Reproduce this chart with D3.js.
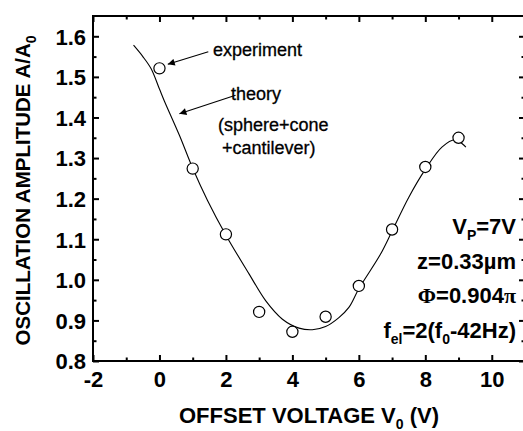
<!DOCTYPE html>
<html>
<head>
<meta charset="utf-8">
<script src="https://cdn.jsdelivr.net/npm/d3@7"></script>
<style>
  html, body { margin: 0; padding: 0; background: #fff; }
  svg { display: block; }
  text { font-family: "Liberation Sans", Arial, Helvetica, sans-serif; fill: #000; }
</style>
</head>
<body>
<svg id="chart" width="523" height="431"></svg>
<script>
// ---- data ----
const expX = [0, 1, 2, 3, 4, 5, 6, 7, 8, 9];
const expY = [1.521, 1.274, 1.112, 0.921, 0.872, 0.909, 0.985, 1.124, 1.278, 1.350];

const theoryX = [-0.78, -0.5, -0.25, 0, 0.15, 0.6, 1, 1.45, 2, 2.7, 3.2, 3.7, 4.2, 4.6, 5.0, 5.4, 5.7, 6, 6.65, 7, 7.5, 8, 8.5, 8.9, 9.22];
const theoryY = [1.578, 1.55, 1.52, 1.47, 1.44, 1.356, 1.275, 1.195, 1.11, 1.014, 0.948, 0.903, 0.881, 0.877, 0.885, 0.907, 0.932, 0.978, 1.063, 1.12, 1.203, 1.272, 1.327, 1.345, 1.327];

const xMajorTicks = [-2, 0, 2, 4, 6, 8, 10];
const xMinorTicks = [-1, 1, 3, 5, 7, 9];
const yMajorTicks = [0.8, 0.9, 1.0, 1.1, 1.2, 1.3, 1.4, 1.5, 1.6];
const yMinorTicks = [0.85, 0.95, 1.05, 1.15, 1.25, 1.35, 1.45, 1.55];

const xDomain = [-2, 11];
const yDomain = [0.8, 1.65];

// ---- layout ----
const svg = d3.select("#chart");
const L = 93, R = 525, T = 16, B = 361;
const x = d3.scaleLinear().domain(xDomain).range([L, R]);
const y = d3.scaleLinear().domain(yDomain).range([B, T]);

const majorLen = 6, minorLen = 3.5;

// frame
svg.append("rect")
  .attr("x", L).attr("y", T).attr("width", R - L).attr("height", B - T)
  .attr("fill", "none").attr("stroke", "#000").attr("stroke-width", 2);

const fmtX = (d) => String(d);           // plain hyphen-minus like the original
const fmtY = (d) => d.toFixed(1);

// axes with inward ticks
function addAxis(axisFn, scale, ticks, len, transform, fmt) {
  const a = axisFn(scale).tickValues(ticks).tickSizeInner(-len).tickSizeOuter(0)
    .tickPadding(6);
  a.tickFormat(fmt || (() => ""));
  const g = svg.append("g").attr("transform", transform).call(a);
  g.select(".domain").remove();
  g.selectAll(".tick line").attr("stroke", "#000").attr("stroke-width", 2);
  g.selectAll(".tick text")
    .attr("font-size", 22).attr("font-weight", "bold")
    .attr("font-family", '"Liberation Sans", Arial, sans-serif');
  return g;
}
// bottom
const gb = addAxis(d3.axisBottom, x, xMajorTicks, majorLen, `translate(0,${B})`, fmtX);
gb.selectAll(".tick text").attr("dy", "0.85em").attr("y", 7);
addAxis(d3.axisBottom, x, xMinorTicks, minorLen, `translate(0,${B})`, null);
// top
addAxis(d3.axisTop, x, xMajorTicks, majorLen, `translate(0,${T})`, null);
addAxis(d3.axisTop, x, xMinorTicks, minorLen, `translate(0,${T})`, null);
// left
const gl = addAxis(d3.axisLeft, y, yMajorTicks, majorLen, `translate(${L},0)`, fmtY);
gl.selectAll(".tick text").attr("x", -7).attr("dy", "0.36em");
addAxis(d3.axisLeft, y, yMinorTicks, minorLen, `translate(${L},0)`, null);
// right
addAxis(d3.axisRight, y, yMajorTicks, majorLen, `translate(${R},0)`, null);
addAxis(d3.axisRight, y, yMinorTicks, minorLen, `translate(${R},0)`, null);

// theory curve
const line = d3.line()
  .x((d, i) => x(theoryX[i]))
  .y((d, i) => y(theoryY[i]))
  .curve(d3.curveCatmullRom.alpha(0.5));
svg.append("path")
  .attr("d", line(theoryX))
  .attr("fill", "none").attr("stroke", "#000").attr("stroke-width", 1.1);

// experiment points
svg.append("g").selectAll("circle")
  .data(expX)
  .join("circle")
  .attr("cx", (d) => x(d))
  .attr("cy", (d, i) => y(expY[i]))
  .attr("r", 5.6)
  .attr("fill", "#fff").attr("stroke", "#000").attr("stroke-width", 1.2);

// arrows
const defs = svg.append("defs");
defs.append("marker")
  .attr("id", "ah").attr("viewBox", "0 0 10 10")
  .attr("refX", 10).attr("refY", 5)
  .attr("markerWidth", 9).attr("markerHeight", 7)
  .attr("markerUnits", "userSpaceOnUse")
  .attr("orient", "auto")
  .append("path").attr("d", "M0,0 L10,5 L0,10 z").attr("fill", "#000");

const arrows = [
  { x1: 1.47, y1: 1.562, x2: 0.25, y2: 1.531 },
  { x1: 2.29, y1: 1.455, x2: 0.6, y2: 1.409 }
];
svg.append("g").selectAll("line")
  .data(arrows)
  .join("line")
  .attr("x1", (d) => x(d.x1)).attr("y1", (d) => y(d.y1))
  .attr("x2", (d) => x(d.x2)).attr("y2", (d) => y(d.y2))
  .attr("stroke", "#000").attr("stroke-width", 1.1)
  .attr("marker-end", "url(#ah)");

// annotation labels
const notes = [
  { t: "experiment", px: 213, py: 56 },
  { t: "theory", px: 231, py: 100 },
  { t: "(sphere+cone", px: 218, py: 131 },
  { t: "+cantilever)", px: 222, py: 154 }
];
svg.append("g").selectAll("text")
  .data(notes)
  .join("text")
  .attr("x", (d) => d.px).attr("y", (d) => d.py)
  .attr("font-size", 18)
  .attr("stroke", "#000").attr("stroke-width", 0.3)
  .text((d) => d.t);

// parameter block (right-aligned)
const px = 516;
const fs = 22, sub = 14;
function addRich(yb, parts) {
  const t = svg.append("text").attr("x", px).attr("y", yb)
    .attr("text-anchor", "end").attr("font-size", fs).attr("font-weight", "bold");
  parts.forEach((p) => {
    const s = t.append("tspan").text(p.t);
    if (p.sub) { s.attr("font-size", sub).attr("dy", 6); }
    if (p.up) { s.attr("dy", -6); }
    if (p.serif) s.attr("font-family", '"Liberation Serif", "Times New Roman", serif');
  });
}
addRich(234, [{ t: "V" }, { t: "P", sub: true }, { t: "=7V", up: true }]);
addRich(269, [{ t: "z=0.33\u00b5m" }]);
addRich(303, [{ t: "\u03a6", serif: true }, { t: "=0.904" }, { t: "\u03c0", serif: true }]);
addRich(338, [{ t: "f" }, { t: "el", sub: true }, { t: "=2(f", up: true }, { t: "0", sub: true }, { t: "-42Hz)", up: true }]);

// axis titles
const xt = svg.append("text")
  .attr("x", (L + R) / 2).attr("y", 423)
  .attr("text-anchor", "middle").attr("font-size", 22).attr("font-weight", "bold");
xt.append("tspan").text("OFFSET VOLTAGE V");
xt.append("tspan").text("0").attr("font-size", sub).attr("dy", 6);
xt.append("tspan").text(" (V)").attr("dy", -6);

const yt = svg.append("text")
  .attr("transform", `translate(30,${(T + B) / 2 + 2}) rotate(-90)`)
  .attr("text-anchor", "middle").attr("font-size", 20.5).attr("font-weight", "bold");
yt.append("tspan").text("OSCILLATION AMPLITUDE A/A");
yt.append("tspan").text("0").attr("font-size", sub).attr("dy", 6);
</script>
</body>
</html>
